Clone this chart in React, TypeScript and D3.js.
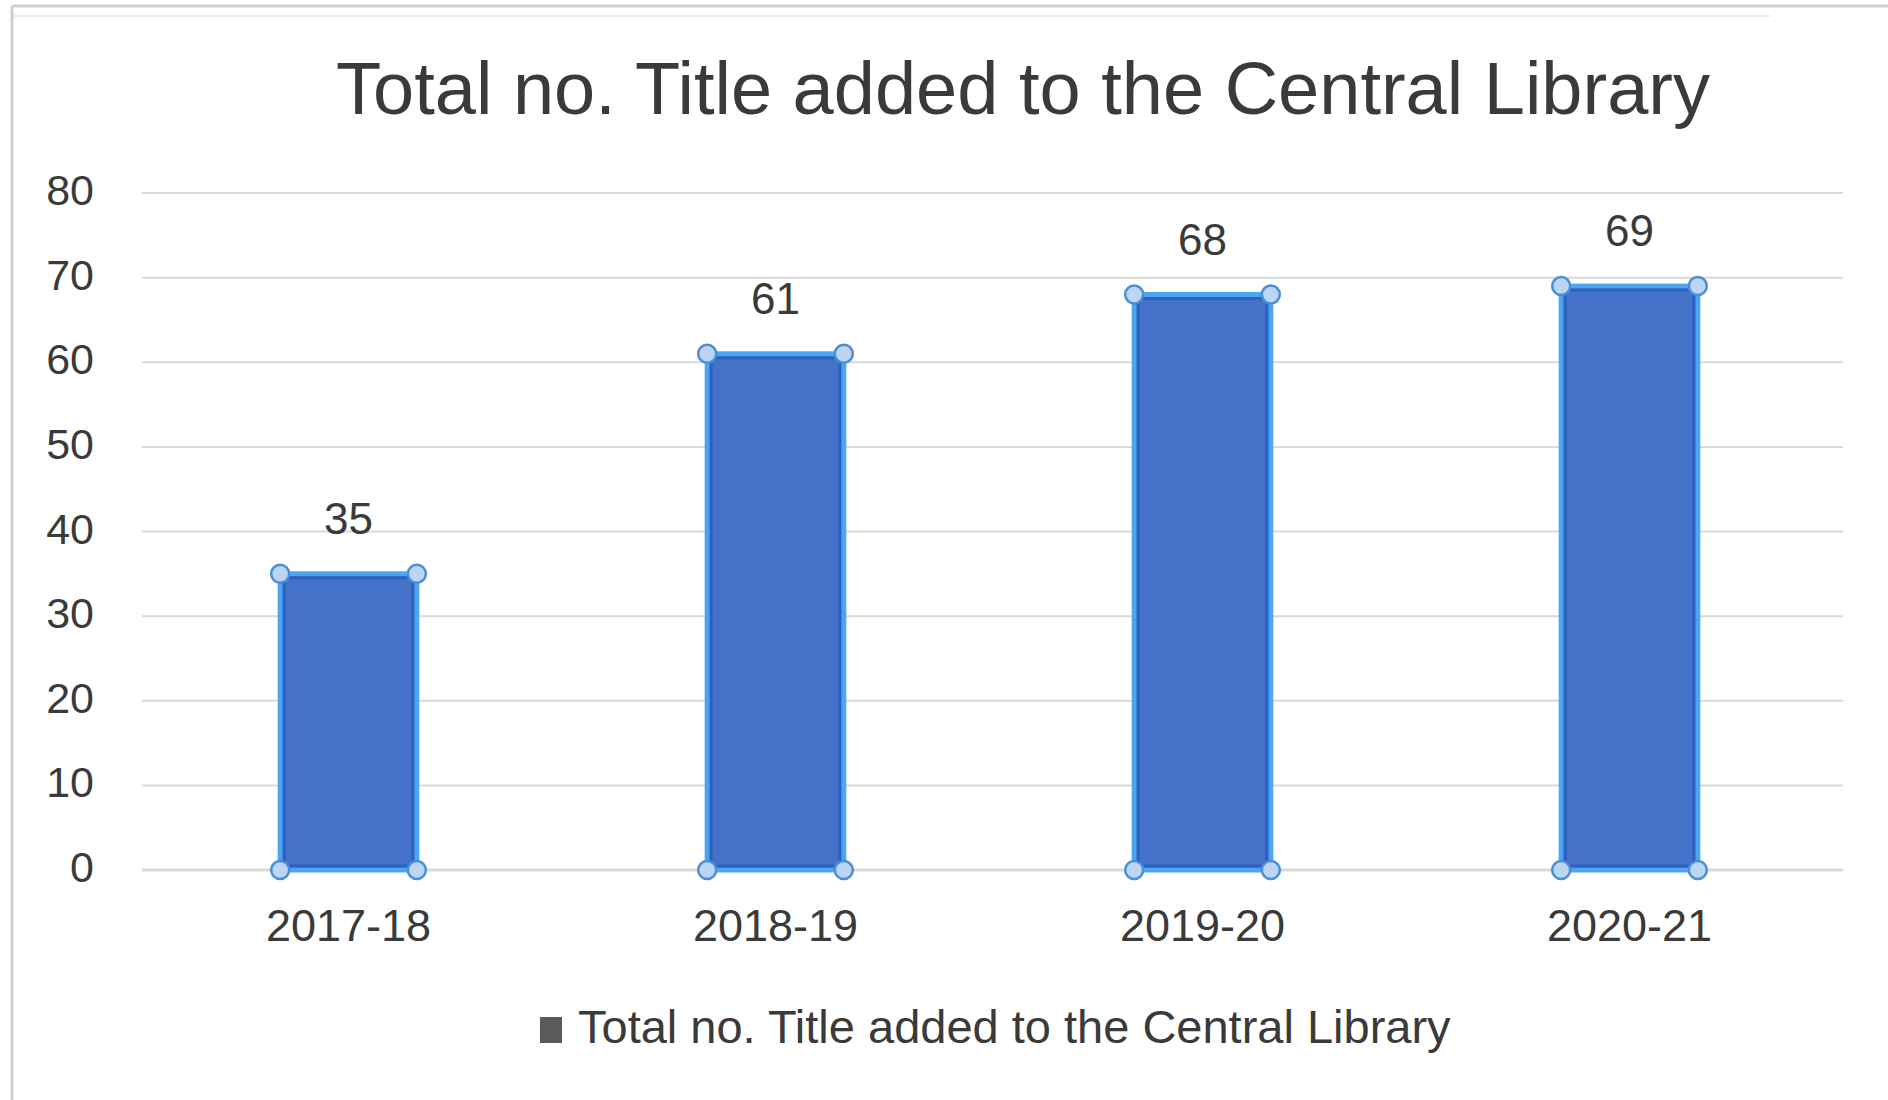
import React from "react";
import * as d3 from "d3";

const categories = ["2017-18", "2018-19", "2019-20", "2020-21"];
const values = [35, 61, 68, 69];
const yTicks = [0, 10, 20, 30, 40, 50, 60, 70, 80];
const title = "Total no. Title added to the Central Library";
const seriesName = "Total no. Title added to the Central Library";

const W = 1888;
const H = 1100;
const plot = { left: 135, right: 1843, top: 193, bottom: 870 };

export default function App() {
  const x = d3
    .scaleBand<string>()
    .domain(categories)
    .range([plot.left, plot.right])
    .paddingInner(0.68)
    .paddingOuter(0.34);
  const y = d3.scaleLinear().domain([0, 80]).range([plot.bottom, plot.top]);
  const font = "'Liberation Sans', Arial, Helvetica, sans-serif";
  const textColor = "#3a3a3a";

  return (
    <svg
      width={W}
      height={H}
      viewBox={`0 0 ${W} ${H}`}
      style={{ position: "absolute", left: 0, top: 0, background: "#fff" }}
      fontFamily={font}
    >
      <rect x={0} y={0} width={W} height={H} fill="#ffffff" />
      {/* frame */}
      <line x1={12} x2={W} y1={6} y2={6} stroke="#cfcfcf" strokeWidth={3} />
      <line x1={12} x2={1770} y1={16} y2={16} stroke="#ececec" strokeWidth={2} />
      <line x1={12} x2={12} y1={6} y2={H} stroke="#cfcfcf" strokeWidth={3} />

      {/* title */}
      <text
        x={1023}
        y={114}
        textAnchor="middle"
        fontSize={74}
        fill={textColor}
      >
        {title}
      </text>

      {/* gridlines and y tick labels */}
      {yTicks.map((t) => (
        <g key={t}>
          <line
            x1={plot.left + 7}
            x2={plot.right}
            y1={y(t)}
            y2={y(t)}
            stroke="#d9d9d9"
            strokeWidth={t === 0 ? 3 : 2}
          />
          <text
            x={94}
            y={y(t) + 12}
            textAnchor="end"
            fontSize={43}
            fill={textColor}
          >
            {t}
          </text>
        </g>
      ))}

      {/* bars */}
      {categories.map((c, i) => {
        const x0 = x(c) as number;
        const bw = x.bandwidth();
        const top = y(values[i]);
        const bot = y(0);
        const corners = [
          [x0, top],
          [x0 + bw, top],
          [x0, bot],
          [x0 + bw, bot],
        ];
        return (
          <g key={c}>
            <rect
              x={x0}
              y={top}
              width={bw}
              height={bot - top}
              fill="#4472c8"
              stroke="#4aa6f2"
              strokeWidth={5}
            />
            <rect
              x={x0 + 4}
              y={top + 4}
              width={bw - 8}
              height={bot - top - 8}
              fill="none"
              stroke="#2f5fbf"
              strokeWidth={3}
            />
            {corners.map(([cx, cy], k) => (
              <circle
                key={k}
                cx={cx}
                cy={cy}
                r={9}
                fill="#bcd5f3"
                stroke="#4a8ed6"
                strokeWidth={2.5}
              />
            ))}
            <text
              x={x0 + bw / 2}
              y={top - 40}
              textAnchor="middle"
              fontSize={44}
              fill={textColor}
            >
              {values[i]}
            </text>
            <text
              x={x0 + bw / 2}
              y={941}
              textAnchor="middle"
              fontSize={45}
              fill={textColor}
            >
              {c}
            </text>
          </g>
        );
      })}

      {/* legend */}
      <rect x={540} y={1017} width={22} height={26} fill="#5a5a5a" />
      <text x={578} y={1043} fontSize={47} fill={textColor}>
        {seriesName}
      </text>
    </svg>
  );
}
